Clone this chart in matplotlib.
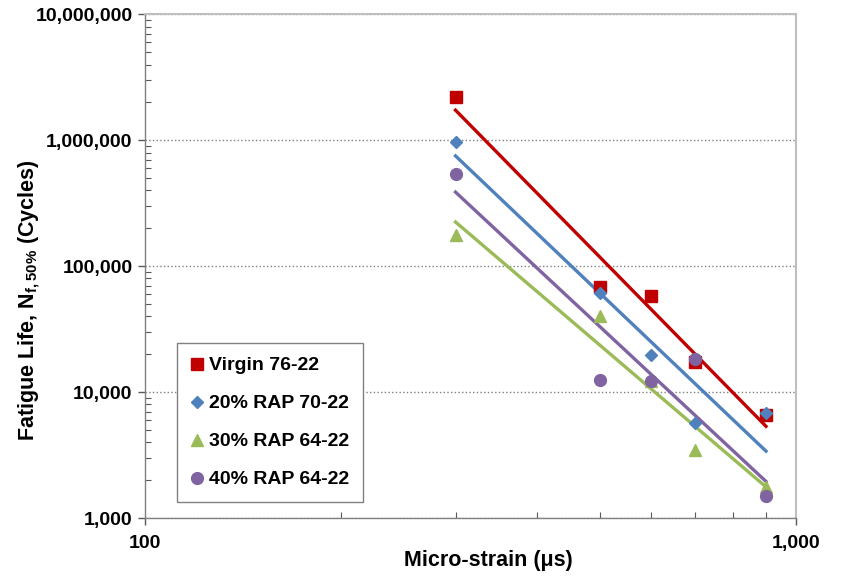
import numpy as np
import matplotlib
matplotlib.use("Agg")
import matplotlib.pyplot as plt
from matplotlib.ticker import FuncFormatter, LogLocator, NullFormatter

plt.rcParams['font.family'] = ['Liberation Sans', 'DejaVu Sans']
plt.rcParams['mathtext.fontset'] = 'custom'
plt.rcParams['mathtext.rm'] = 'Liberation Sans:bold'
plt.rcParams['mathtext.bf'] = 'Liberation Sans:bold'

# micro-strain levels and fatigue life (cycles) per mix
strain = [300, 500, 600, 700, 900]
virgin = [2200000, 68000, 58000, 17500, 6600]
rap20 = [970000, 61000, 19700, 5700, 6900]
rap30 = [178000, 40000, 12200, 3450, 1780]
rap40 = [540000, 12500, 12300, 18300, 1500]

series = [
    ("Virgin 76-22", virgin, "#C00000", "s", 9),
    ("20% RAP 70-22", rap20, "#4F81BD", "D", 6),
    ("30% RAP 64-22", rap30, "#9BBB59", "^", 9),
    ("40% RAP 64-22", rap40, "#8064A2", "o", 8.5),
]

fig = plt.figure(figsize=(8.43, 5.77), dpi=100)
ax = fig.add_axes([0.172, 0.102, 0.772, 0.873])

x = np.array(strain, dtype=float)
for label, vals, color, marker, ms in series:
    y = np.array(vals, dtype=float)
    ax.plot(x, y, linestyle='none', marker=marker, color=color,
            markersize=ms, label=label, zorder=3)
    # power-law trendline fitted in log-log space
    k, b = np.polyfit(np.log10(x), np.log10(y), 1)
    xs = np.array([x.min(), x.max()])
    ax.plot(xs, 10 ** (k * np.log10(xs) + b), color=color, lw=2.4, zorder=2)

ax.set_xscale('log')
ax.set_yscale('log')
ax.set_xlim(100, 1000)
ax.set_ylim(1000, 10000000)

fmt = FuncFormatter(lambda v, p: f"{v:,.0f}")
ax.xaxis.set_major_locator(LogLocator(base=10))
ax.yaxis.set_major_locator(LogLocator(base=10))
ax.xaxis.set_major_formatter(fmt)
ax.yaxis.set_major_formatter(fmt)
ax.xaxis.set_minor_locator(LogLocator(base=10, subs=np.arange(2, 10)))
ax.yaxis.set_minor_locator(LogLocator(base=10, subs=np.arange(2, 10)))
ax.xaxis.set_minor_formatter(NullFormatter())
ax.yaxis.set_minor_formatter(NullFormatter())

ax.tick_params(which='major', direction='out', length=5, width=1, color='#595959',
               labelsize=14, pad=4)
ax.tick_params(which='minor', direction='in', length=4, width=0.8, color='#595959')
ax.tick_params(axis='x', which='major', pad=7)
for lab in ax.get_xticklabels() + ax.get_yticklabels():
    lab.set_fontweight('bold')

ax.grid(True, which='major', axis='y', linestyle=':', color='#808080', lw=1)
ax.set_axisbelow(True)

for side in ('left', 'bottom'):
    ax.spines[side].set_color('#808080')
    ax.spines[side].set_linewidth(1)
for side in ('top', 'right'):
    ax.spines[side].set_color('#BFBFBF')
    ax.spines[side].set_linewidth(1.5)

ax.set_xlabel("Micro-strain (μs)", fontsize=15.5, fontweight='bold')
ax.set_ylabel(r"Fatigue Life, N$_{\mathbf{f,50\%}}$ (Cycles)", fontsize=15.5,
              fontweight='bold')
ax.xaxis.set_label_coords(0.527, -0.064)
ax.yaxis.set_label_coords(-0.158, 0.433)

leg = ax.legend(loc='lower left', bbox_to_anchor=(0.049, 0.032), borderaxespad=0,
                fancybox=False, edgecolor='#808080', framealpha=1,
                prop={'weight': 'bold', 'size': 14}, labelspacing=1.05,
                handlelength=0.7, handletextpad=0.25, borderpad=0.7)
leg.get_frame().set_linewidth(1)

fig.savefig("out.png", dpi=100)
